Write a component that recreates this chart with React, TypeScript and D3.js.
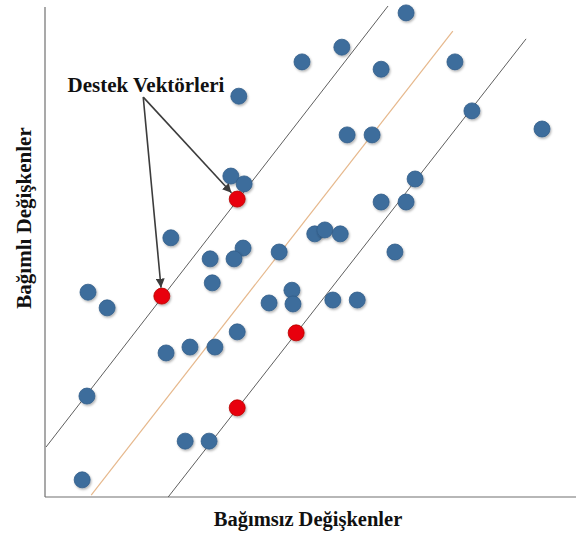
import React from "react";
import * as d3 from "d3";

// Observations (independent value, dependent value)
const blueX = [6.80, 5.59, 4.84, 6.33, 7.72, 3.65, 8.04, 9.36, 5.69, 6.16, 3.50, 3.75, 6.97, 6.33, 6.80, 2.37, 3.73, 3.11, 3.56, 4.41, 5.08, 5.27, 5.56, 6.59, 0.81, 1.17, 3.15, 4.65, 4.22, 4.67, 5.42, 5.88, 2.28, 2.73, 3.20, 3.62, 0.79, 2.64, 3.09, 0.70];
const blueY = [9.88, 9.18, 8.88, 8.73, 8.88, 8.18, 7.88, 7.51, 7.39, 7.39, 6.55, 6.39, 6.49, 6.02, 6.02, 5.29, 5.08, 4.86, 4.86, 5.00, 5.37, 5.45, 5.37, 5.00, 4.18, 3.86, 4.37, 4.22, 3.96, 3.94, 4.02, 4.02, 2.94, 3.06, 3.06, 3.37, 2.06, 1.14, 1.14, 0.35];

// Support vectors
const supportX = [3.62, 2.20, 4.73, 3.62];
const supportY = [6.08, 4.10, 3.35, 1.82];

// Margin boundaries and regression line: [x1, y1, x2, y2]
const upperBoundary = [0.02, 1.02, 6.46, 10.02];
const regressionLine = [0.87, 0.04, 7.68, 9.51];
const lowerBoundary = [2.32, 0.0, 9.06, 9.35];

const annotationLabel = "Destek Vektörleri";
const xAxisLabel = "Bağımsız Değişkenler";
const yAxisLabel = "Bağımlı Değişkenler";
// Annotated support vectors (indices into supportX/supportY)
const annotatedIdx = [0, 1];
const annotationAnchor = [1.85, 8.16];

const W = 576;
const H = 533;
const left = 45;
const right = 576;
const top = 7;
const bottom = 497;
const R = 8;

export default function App() {
  const x = d3.scaleLinear().domain([0, 10]).range([left, right]);
  const y = d3.scaleLinear().domain([0, 10]).range([bottom, top]);

  const lines = [
    { d: upperBoundary, color: "#5f5f5f", w: 1 },
    { d: regressionLine, color: "#e6b88c", w: 1.2 },
    { d: lowerBoundary, color: "#5f5f5f", w: 1 },
  ];

  const ax = x(annotationAnchor[0]);
  const ay = y(annotationAnchor[1]);

  const font = "'Liberation Serif', 'Times New Roman', serif";

  return (
    <svg
      width={W}
      height={H}
      style={{ position: "absolute", left: 0, top: 0, background: "#fff" }}
    >
      <defs>
        <filter id="shadow" x="-50%" y="-50%" width="200%" height="200%">
          <feDropShadow dx="1" dy="1.5" stdDeviation="1.2" floodColor="#000" floodOpacity="0.3" />
        </filter>
        <marker
          id="arrow"
          viewBox="0 0 10 10"
          refX="10"
          refY="5"
          markerWidth="9"
          markerHeight="9"
          markerUnits="userSpaceOnUse"
          orient="auto"
        >
          <path d="M0,0 L10,5 L0,10 z" fill="#3c3c3c" />
        </marker>
      </defs>

      {/* axes */}
      <line x1={left} y1={top} x2={left} y2={bottom} stroke="#707070" strokeWidth={1.2} />
      <line x1={left} y1={bottom} x2={right} y2={bottom} stroke="#707070" strokeWidth={1.2} />

      {/* boundaries and regression line */}
      {lines.map((l, i) => (
        <line
          key={i}
          x1={x(l.d[0])}
          y1={y(l.d[1])}
          x2={x(l.d[2])}
          y2={y(l.d[3])}
          stroke={l.color}
          strokeWidth={l.w}
        />
      ))}

      {/* observations */}
      {blueX.map((v, i) => (
        <circle
          key={"b" + i}
          cx={x(v)}
          cy={y(blueY[i])}
          r={R}
          fill="#3d6d9c"
          stroke="#325e8a"
          strokeWidth={0.8}
          filter="url(#shadow)"
        />
      ))}

      {/* support vectors */}
      {supportX.map((v, i) => (
        <circle
          key={"r" + i}
          cx={x(v)}
          cy={y(supportY[i])}
          r={R}
          fill="#e8000a"
          stroke="#b80000"
          strokeWidth={0.8}
          filter="url(#shadow)"
        />
      ))}

      {/* annotation arrows */}
      {annotatedIdx.map((k) => {
        const tx = x(supportX[k]);
        const ty = y(supportY[k]);
        const dx = tx - ax;
        const dy = ty - ay;
        const len = Math.sqrt(dx * dx + dy * dy);
        const ex = tx - (dx / len) * (R + 0.5);
        const ey = ty - (dy / len) * (R + 0.5);
        return (
          <line
            key={"a" + k}
            x1={ax}
            y1={ay}
            x2={ex}
            y2={ey}
            stroke="#3c3c3c"
            strokeWidth={1.6}
            markerEnd="url(#arrow)"
          />
        );
      })}

      <text
        x={146}
        y={92}
        textAnchor="middle"
        fontFamily={font}
        fontWeight="bold"
        fontSize={21}
        fill="#111"
      >
        {annotationLabel}
      </text>

      <text
        x={308}
        y={526}
        textAnchor="middle"
        fontFamily={font}
        fontWeight="bold"
        fontSize={20.5}
        fill="#111"
      >
        {xAxisLabel}
      </text>

      <text
        transform="translate(31,218) rotate(-90)"
        textAnchor="middle"
        fontFamily={font}
        fontWeight="bold"
        fontSize={21}
        fill="#111"
      >
        {yAxisLabel}
      </text>
    </svg>
  );
}
